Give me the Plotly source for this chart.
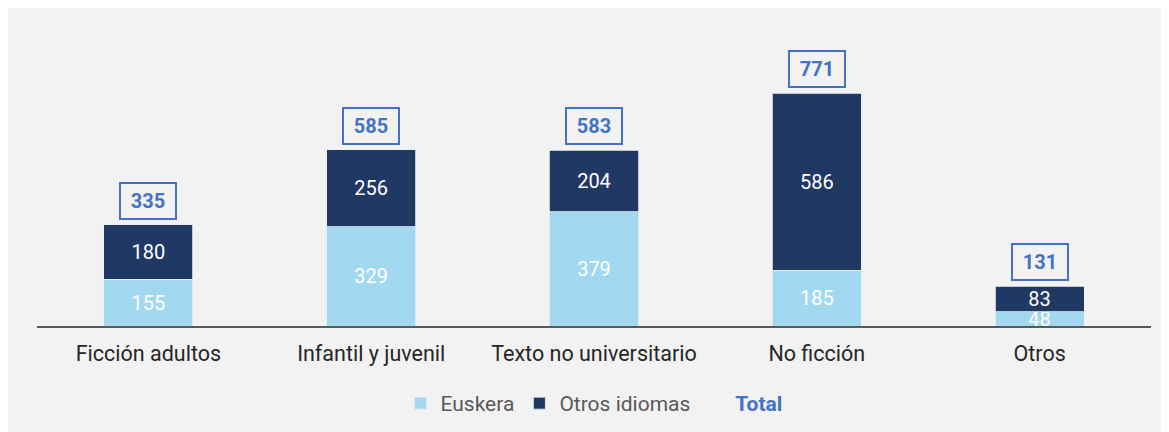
import plotly.graph_objects as go

categories = ["Ficción adultos", "Infantil y juvenil", "Texto no universitario", "No ficción", "Otros"]
euskera = [155, 329, 379, 185, 48]
otros = [180, 256, 204, 586, 83]
totals = [335, 585, 583, 771, 131]

LIGHT = "#A2D9F0"
DARK = "#1F3864"
BLUE = "#4472C4"
BG = "#F2F2F2"
FONT = "Roboto"

fig = go.Figure()
fig.add_trace(go.Bar(
    x=categories, y=euskera, name="Euskera",
    marker=dict(color=LIGHT, line=dict(color="#E6EEF2", width=0.8)),
    text=euskera, textposition="inside", insidetextanchor="middle", textangle=0,
    textfont=dict(color="white", size=20, family=FONT),
    width=0.4,
))
fig.add_trace(go.Bar(
    x=categories, y=otros, name="Otros idiomas",
    marker=dict(color=DARK, line=dict(color="#E6EEF2", width=0.8)),
    text=otros, textposition="inside", insidetextanchor="middle", textangle=0,
    textfont=dict(color="white", size=20, family=FONT),
    width=0.4,
))
fig.add_trace(go.Scatter(
    x=[categories[0]], y=[0], mode="markers",
    name=f"<span style='color:{BLUE}'><b>Total</b></span>",
    marker=dict(opacity=0, size=1, color=BG),
    hoverinfo="skip",
))

for c, t in zip(categories, totals):
    fig.add_annotation(
        x=c, y=t, xref="x", yref="y", text=f"<b>{t}</b>", showarrow=False,
        yanchor="bottom", yshift=5,
        font=dict(color=BLUE, size=20, family=FONT),
        bordercolor=BLUE, borderwidth=2, borderpad=2,
        width=50, height=30, bgcolor=BG,
    )

fig.update_layout(
    barmode="stack",
    width=1169, height=432,
    margin=dict(l=29, r=26, t=10, b=114),
    paper_bgcolor=BG, plot_bgcolor=BG,
    font=dict(family=FONT, size=21, color="#595959"),
    showlegend=True,
    legend=dict(orientation="h", x=0.5, xanchor="center", y=-0.185, yanchor="top",
                font=dict(size=21, color="#595959", family=FONT),
                bgcolor="rgba(0,0,0,0)", itemclick=False, traceorder="normal"),
    uniformtext=dict(mode="show", minsize=20),
    bargap=0.6,
)
fig.update_xaxes(showline=True, linecolor="#595959", linewidth=2, ticks="",
                 tickfont=dict(size=21.5, color="#262626", family=FONT),
                 ticklabelstandoff=7, showgrid=False)
fig.update_yaxes(range=[0, 1021], visible=False, showgrid=False, zeroline=False)

fig.write_html("out.html")
